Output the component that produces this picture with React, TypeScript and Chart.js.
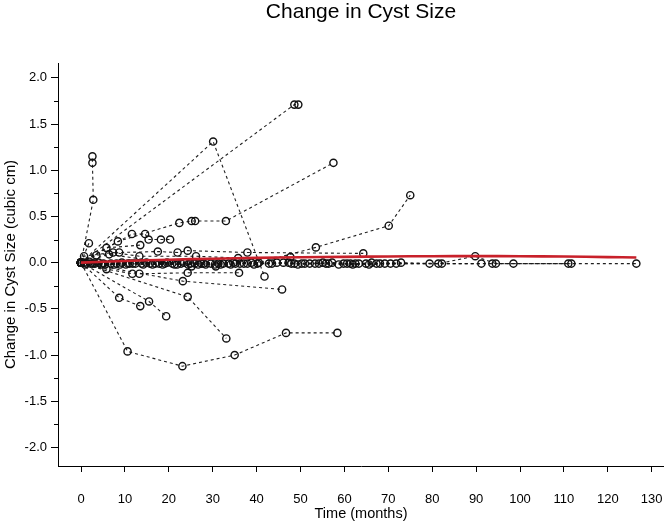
import React, { useEffect, useRef } from 'react';
import { Chart, registerables } from 'chart.js';

Chart.register(...registerables);

// Axis ticks
const xTickValues = [0, 10, 20, 30, 40, 50, 60, 70, 80, 90, 100, 110, 120, 130];
const yTickValues = [-2, -1.5, -1, -0.5, 0, 0.5, 1, 1.5, 2];
const yMinorTickValues = [-1.75, -1.25, -0.75, -0.25, 0.25, 0.75, 1.25, 1.75];

// Red trend line
const trendMonths = [0, 10, 20, 30, 40, 50, 60, 70, 80, 90, 100, 110, 120, 126.5];
const trendChange = [0, 0.018, 0.032, 0.043, 0.052, 0.058, 0.063, 0.067, 0.07, 0.071, 0.07, 0.066, 0.06, 0.056];

// Individual subjects (months, change in cubic cm)
const monthsA = [0, 2.8, 2.6, 2.6];
const changeA = [0, 0.68, 1.08, 1.15];
const monthsB = [0, 1.8];
const changeB = [0, 0.21];
const monthsC = [0, 30.1, 41.8];
const changeC = [0, 1.31, -0.15];
const monthsD = [0, 48.6, 49.5];
const changeD = [0, 1.71, 1.71];
const monthsE = [0, 8.4, 22.4, 25.2, 26.0, 33.0, 57.5];
const changeE = [0, 0.23, 0.43, 0.45, 0.45, 0.45, 1.08];
const monthsF = [0, 40.5, 53.5, 70.1, 75.0];
const changeF = [0, 0.0, 0.165, 0.4, 0.73];
const monthsG = [0, 10.6, 23.1, 35.0, 46.7, 58.4];
const changeG = [0, -0.96, -1.12, -1.0, -0.76, -0.76];
const monthsH = [0, 8.7, 13.5];
const changeH = [0, -0.38, -0.47];
const monthsI = [0, 15.5, 19.4];
const changeI = [0, -0.42, -0.58];
const monthsJ = [0, 24.3, 33.1];
const changeJ = [0, -0.37, -0.82];
const monthsK = [0, 23.2, 45.8];
const changeK = [0, -0.2, -0.29];
const monthsL = [0, 5.8, 11.7, 13.3, 24.3, 36.0];
const changeL = [0, -0.07, -0.12, -0.12, -0.11, -0.11];
const monthsM = [0, 11.6, 14.6, 15.4, 18.2, 20.3];
const changeM = [0, 0.31, 0.31, 0.25, 0.25, 0.25];
const monthsN = [0, 5.8, 13.5];
const changeN = [0, 0.16, 0.19];
const monthsP = [0, 3.5, 8.7, 17.5, 22.0, 24.3, 37.9, 64.3];
const changeP = [0, 0.08, 0.11, 0.12, 0.11, 0.13, 0.11, 0.1];
const monthsQ = [0, 0.7, 7.3, 13.3, 26.2, 35.8, 47.7];
const changeQ = [0, 0.07, 0.11, 0.07, 0.07, 0.05, 0.06];
const monthsR = [0, 6.4, 25.2, 30.7];
const changeR = [0, 0.09, -0.04, -0.04];
const monthsZ1 = [0, 2.2, 5.1, 9.3, 12.4, 17.8, 23.5, 29.6, 36.2, 47.3, 55.8, 61.4, 69.2, 79.4, 93.7, 98.5, 111.0, 126.5];
const changeZ1 = [0, -0.01, -0.01, 0, -0.01, -0.01, 0, -0.01, -0.01, 0, -0.01, -0.01, -0.01, -0.01, -0.01, -0.01, -0.01, -0.01];
const monthsZ2 = [0, 1.3, 4.0, 7.6, 11.1, 14.9, 20.8, 26.7, 32.4, 38.8, 48.6, 52.1, 57.2, 62.5, 68.1, 72.9, 81.4, 89.8, 94.5, 111.7];
const changeZ2 = [0, -0.01, 0, -0.02, -0.01, 0, -0.01, -0.02, -0.01, 0, -0.01, -0.01, 0, -0.01, -0.01, 0, -0.01, 0.07, -0.01, -0.01];
const monthsZ3 = [0, 0.6, 3.2, 6.8, 10.2, 13.8, 16.9, 19.6, 22.8, 25.9, 28.4, 31.3, 34.7, 40.2, 44.6, 50.3, 54.2, 58.7, 63.3, 66.2, 70.5, 82.2, 91.2];
const changeZ3 = [0, 0, -0.01, -0.01, -0.02, -0.01, -0.01, 0, -0.01, -0.01, -0.02, -0.01, 0, -0.01, 0, -0.01, -0.01, -0.02, -0.01, 0, -0.01, -0.01, -0.01];
const monthsZ4 = [0, 1.9, 8.1, 15.7, 21.3, 27.4, 33.6, 37.9, 46.1, 49.4, 53.3, 56.4, 59.8, 61.9, 64.9, 67.3];
const changeZ4 = [0, 0.01, -0.01, -0.01, -0.02, -0.01, -0.01, -0.01, 0, -0.02, -0.01, -0.01, -0.01, -0.02, -0.01, -0.01];
const monthsZ5 = [0, 4.6, 11.8, 18.6, 24.9, 30.5, 35.2, 42.8, 47.9, 51.0, 55.1, 60.6, 65.6, 71.8];
const changeZ5 = [0, -0.02, -0.01, -0.02, -0.01, -0.02, -0.01, -0.01, -0.01, -0.01, 0, -0.01, -0.02, -0.01];
const monthsZ6 = [0, 0.9, 2.7, 5.5, 8.9, 10.7, 14.2, 16.3, 19.1, 21.9, 24.4, 27.9, 31.8, 34.1, 37.1, 39.4, 43.5];
const changeZ6 = [0, -0.02, -0.01, -0.02, -0.02, -0.01, -0.02, -0.02, -0.01, -0.02, -0.02, -0.01, -0.02, -0.02, -0.01, -0.02, -0.01];

const subjectSeries: [number[], number[]][] = [
  [monthsZ1, changeZ1], [monthsZ2, changeZ2], [monthsZ3, changeZ3], [monthsZ4, changeZ4], [monthsZ5, changeZ5], [monthsZ6, changeZ6],
  [monthsA, changeA], [monthsB, changeB], [monthsC, changeC], [monthsD, changeD], [monthsE, changeE],
  [monthsF, changeF], [monthsG, changeG], [monthsH, changeH], [monthsI, changeI], [monthsJ, changeJ],
  [monthsK, changeK], [monthsL, changeL], [monthsM, changeM], [monthsN, changeN], [monthsP, changeP],
  [monthsQ, changeQ], [monthsR, changeR],
];

const FONT = "'Liberation Sans', Arial, Helvetica, sans-serif";

const minorTicksPlugin = {
  id: 'minorTicks',
  afterDraw(chart: any) {
    const y = chart.scales.y;
    const ctx = chart.ctx;
    const left = chart.chartArea.left;
    ctx.save();
    ctx.strokeStyle = '#000';
    ctx.lineWidth = 1;
    for (const v of yMinorTickValues) {
      const py = Math.round(y.getPixelForValue(v)) + 0.5;
      ctx.beginPath();
      ctx.moveTo(left - 4, py);
      ctx.lineTo(left, py);
      ctx.stroke();
    }
    ctx.restore();
  },
};

export default function App() {
  const ref = useRef<HTMLCanvasElement | null>(null);
  useEffect(() => {
    document.body.style.margin = '0';
    const canvas = ref.current;
    if (!canvas) return;
    const datasets: any[] = subjectSeries.map(([m, c]) => ({
      data: m.map((x, i) => ({ x, y: c[i] })),
      showLine: true,
      borderColor: 'rgba(20,20,20,0.95)',
      borderWidth: 1.1,
      borderDash: [3, 3],
      pointRadius: 3.6,
      pointBorderWidth: 1.4,
      pointBorderColor: '#111',
      pointBackgroundColor: 'rgba(0,0,0,0)',
      fill: false,
      tension: 0,
      order: 2,
    }));
    datasets.push({
      data: trendMonths.map((x, i) => ({ x, y: trendChange[i] })),
      showLine: true,
      borderColor: '#c8202a',
      borderWidth: 2.6,
      pointRadius: 0,
      fill: false,
      tension: 0.4,
      order: 0,
    });
    const chart = new Chart(canvas, {
      type: 'scatter',
      data: { datasets },
      plugins: [minorTicksPlugin],
      options: {
        animation: false,
        responsive: true,
        maintainAspectRatio: false,
        layout: { padding: 0, autoPadding: false },
        plugins: {
          legend: { display: false },
          tooltip: { enabled: false },
          title: {
            display: true,
            text: 'Change in Cyst Size',
            fullSize: false,
            color: '#000',
            font: { family: FONT, size: 21, weight: 'normal', lineHeight: 1.2 },
            padding: { top: 0, bottom: 37.8 },
          },
        },
        scales: {
          x: {
            type: 'linear',
            min: -5.24,
            max: 132.8,
            afterFit: (s: any) => {
              s.height = 55;
              s.paddingLeft = 0;
              s.paddingRight = 0;
            },
            afterBuildTicks: (s: any) => { s.ticks = xTickValues.map((v) => ({ value: v })); },
            grid: { drawOnChartArea: false, drawTicks: true, tickLength: 6, tickColor: '#000' },
            border: { display: true, color: '#000', width: 1 },
            ticks: { color: '#000', font: { family: FONT, size: 13 }, padding: 20, maxRotation: 0 },
            title: { display: true, text: 'Time (months)', color: '#000', font: { family: FONT, size: 14.5, lineHeight: 1 }, padding: { top: 0, bottom: 0 } },
          },
          y: {
            type: 'linear',
            min: -2.2,
            max: 2.16,
            afterFit: (s: any) => { s.width = 58; s.paddingTop = 0; s.paddingBottom = 0; },
            afterBuildTicks: (s: any) => { s.ticks = yTickValues.map((v) => ({ value: v })); },
            grid: { drawOnChartArea: false, drawTicks: true, tickLength: 7, tickColor: '#000' },
            border: { display: true, color: '#000', width: 1 },
            ticks: { color: '#000', font: { family: FONT, size: 13 }, padding: 4, callback: (v: any) => Number(v).toFixed(1) },
            title: { display: true, text: 'Change in Cyst Size (cubic cm)', color: '#000', font: { family: FONT, size: 15, lineHeight: 1.2 }, padding: { top: 2, bottom: 0 } },
          },
        },
      },
    });
    return () => chart.destroy();
  }, []);
  return (
    <div style={{ width: 664, height: 521, position: 'relative' }}>
      <canvas ref={ref} />
    </div>
  );
}
